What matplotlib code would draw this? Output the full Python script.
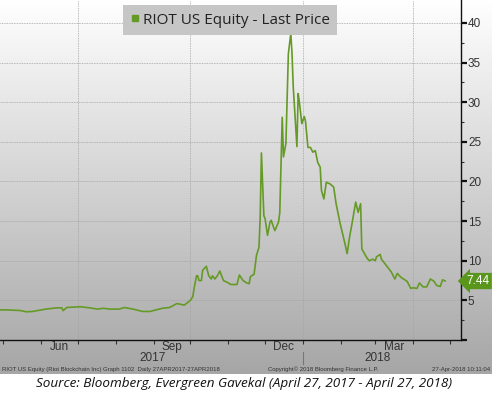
import matplotlib
matplotlib.use("Agg")
import matplotlib.pyplot as plt
import matplotlib.dates as mdates
from matplotlib.lines import Line2D
import numpy as np
import pandas as pd

# RIOT US Equity, last price
dates = [
    "2017-04-27", "2017-05-04", "2017-05-15", "2017-05-20", "2017-05-25",
    "2017-06-05", "2017-06-14", "2017-06-18", "2017-06-19", "2017-06-22",
    "2017-07-03", "2017-07-11", "2017-07-17", "2017-07-22", "2017-07-27",
    "2017-08-04", "2017-08-08", "2017-08-15", "2017-08-23", "2017-08-29",
    "2017-09-03", "2017-09-08", "2017-09-14", "2017-09-20", "2017-09-26",
    "2017-10-01", "2017-10-03", "2017-10-04", "2017-10-06", "2017-10-07",
    "2017-10-08", "2017-10-10", "2017-10-11", "2017-10-14", "2017-10-16",
    "2017-10-18", "2017-10-19", "2017-10-21", "2017-10-23", "2017-10-25",
    "2017-10-28", "2017-11-01", "2017-11-03", "2017-11-06", "2017-11-08",
    "2017-11-10", "2017-11-13", "2017-11-16", "2017-11-18", "2017-11-19",
    "2017-11-22", "2017-11-24", "2017-11-26", "2017-11-27", "2017-11-28",
    "2017-11-30", "2017-12-01", "2017-12-03", "2017-12-05", "2017-12-06",
    "2017-12-08", "2017-12-09", "2017-12-12", "2017-12-13", "2017-12-15",
    "2017-12-16", "2017-12-18", "2017-12-20", "2017-12-22", "2017-12-23",
    "2017-12-24", "2017-12-27", "2017-12-28", "2017-12-29", "2017-12-31",
    "2018-01-02", "2018-01-03", "2018-01-05", "2018-01-07", "2018-01-09",
    "2018-01-11", "2018-01-13", "2018-01-15", "2018-01-16", "2018-01-18",
    "2018-01-20", "2018-01-23", "2018-01-26", "2018-01-28", "2018-01-31",
    "2018-02-02", "2018-02-04", "2018-02-06", "2018-02-08", "2018-02-10",
    "2018-02-13", "2018-02-15", "2018-02-17", "2018-02-18", "2018-02-22",
    "2018-02-24", "2018-02-27", "2018-03-01", "2018-03-02", "2018-03-05",
    "2018-03-06", "2018-03-10", "2018-03-14", "2018-03-17", "2018-03-19",
    "2018-03-22", "2018-03-27", "2018-03-30", "2018-04-01", "2018-04-04",
    "2018-04-06", "2018-04-09", "2018-04-12", "2018-04-15", "2018-04-18",
    "2018-04-20", "2018-04-23", "2018-04-25", "2018-04-27",
]
prices = [
    3.80, 3.80, 3.72, 3.56, 3.60,
    3.90, 4.06, 4.05, 3.70, 4.10,
    4.20, 4.05, 3.90, 4.00, 3.90,
    3.90, 4.10, 3.90, 3.60, 3.60,
    3.80, 4.00, 4.10, 4.60, 4.40,
    5.00, 5.50, 6.50, 8.10, 8.10,
    7.50, 7.50, 8.80, 9.30, 8.10,
    7.70, 8.10, 7.70, 8.10, 8.70,
    7.50, 7.20, 7.00, 7.00, 7.00,
    8.20, 7.50, 7.20, 7.10, 8.00,
    8.30, 10.70, 11.70, 15.50, 23.60,
    15.70, 15.30, 13.20, 14.90, 15.10,
    14.20, 13.80, 14.90, 16.10, 28.10,
    23.10, 24.80, 36.10, 38.70, 36.10,
    31.90, 24.40, 31.10, 30.00, 27.30,
    28.20, 27.60, 24.30, 24.30, 23.70,
    23.90, 22.40, 21.80, 18.90, 17.80,
    19.90, 19.70, 19.30, 17.20, 14.90,
    13.60, 12.30, 10.90, 13.00, 14.70,
    17.40, 16.10, 17.20, 11.50, 10.40,
    10.00, 10.20, 10.00, 10.50, 10.80,
    10.20, 9.40, 8.60, 7.70, 8.40,
    7.90, 7.40, 6.50, 6.60, 6.50,
    7.20, 6.70, 6.70, 7.70, 7.40,
    6.90, 6.75, 7.60, 7.44,
]
y_ticks = [5, 10, 15, 20, 25, 30, 35, 40]
month_labels = [("2017-06-16", "Jun"), ("2017-09-16", "Sep"),
                ("2017-12-16", "Dec"), ("2018-03-16", "Mar")]
year_labels = [("2017-08-31", "2017"), ("2018-03-03", "2018")]
quarter_lines = ["2017-07-01", "2017-10-01", "2018-01-01", "2018-04-01"]
last_price = 7.44

GREEN = "#659a26"
W, H = 492, 398

fig = plt.figure(figsize=(W / 100, H / 100), dpi=100)

# Bloomberg-style grey gradient behind the chart
bg = fig.add_axes([0, 1 - 374 / H, 1, 374 / H])
grad = np.linspace(0, 1, 256).reshape(-1, 1)
bg.imshow(grad, aspect="auto", cmap=matplotlib.colors.LinearSegmentedColormap.from_list(
    "bb", ["#ffffff", "#a6a6a6"]), extent=[0, 1, 0, 1], origin="upper")
bg.set_axis_off()

ax = fig.add_axes([0, 1 - 340 / H, 461 / W, 340 / H])
ax.patch.set_alpha(0)

x = pd.to_datetime(dates)
ax.plot(x, prices, color=GREEN, lw=1.2, zorder=3)

ax.set_xlim(pd.Timestamp("2017-04-28 12:00"), pd.Timestamp("2018-05-10"))
ax.set_ylim(0, 42.9)

for s in ["left", "top"]:
    ax.spines[s].set_visible(False)
for s in ["right", "bottom"]:
    ax.spines[s].set_color("#111111")
    ax.spines[s].set_linewidth(1.0)

# y axis on the right
ax.yaxis.tick_right()
ax.set_yticks([0] + y_ticks)
ax.set_yticklabels([""] + [str(v) for v in y_ticks])
ax.set_yticks(np.arange(2.5, 42, 5), minor=True)
ax.tick_params(axis="y", which="major", direction="out", length=4, width=1.6,
               colors="#111111", labelsize=8.5, pad=1, labelcolor="#333333")
ax.tick_params(axis="y", which="minor", direction="out", length=2, width=0.8,
               colors="#333333")
for t in ax.get_yticklabels():
    t.set_family("Liberation Sans")

# x axis: monthly ticks, labels drawn at mid-month
ax.xaxis.set_major_locator(mdates.MonthLocator())
ax.xaxis.set_major_formatter(plt.NullFormatter())
ax.tick_params(axis="x", direction="out", length=3, width=0.8, colors="#333333")

xt = ax.get_xaxis_transform()
for d, lab in month_labels:
    ax.text(pd.Timestamp(d), -0.022, lab, transform=xt, ha="center", va="center",
            fontsize=8.5, color="#333333", family="Liberation Sans")
for d, lab in year_labels:
    ax.text(pd.Timestamp(d), -0.052, lab, transform=xt, ha="center", va="center",
            fontsize=8.5, color="#333333", family="Liberation Sans")
ax.add_line(Line2D([pd.Timestamp("2018-01-01")] * 2, [-0.035, -0.07], transform=xt,
                   color="#777777", lw=0.8, clip_on=False))

# grid
for v in y_ticks:
    ax.axhline(v, color="#a4a4a4", lw=0.6, ls=(0, (1, 1)), zorder=1)
for d in quarter_lines:
    ax.axvline(pd.Timestamp(d), color="#a4a4a4", lw=0.6, ls=(0, (1, 1)), zorder=1)

# legend box
handle = Line2D([], [], color=GREEN, marker="s", ls="none", markersize=5)
leg = ax.legend([handle], ["RIOT US Equity - Last Price"], loc="upper center",
                bbox_to_anchor=(0.499, 1.008), frameon=True, fancybox=False,
                handlelength=0.6, handletextpad=0.2, borderpad=0.5,
                prop={"family": "Open Sans", "size": 11})
leg.get_frame().set_facecolor("#c6c6c6")
leg.get_frame().set_edgecolor("none")
leg.get_frame().set_alpha(1)
for t in leg.get_texts():
    t.set_color("#222222")

# last price tag
ax.text(1.012, last_price, f"{last_price:.2f}", transform=ax.get_yaxis_transform(),
        ha="left", va="center", fontsize=8.5, color="white", family="Liberation Sans",
        bbox=dict(boxstyle="larrow,pad=0.18", fc="#5a961c", ec="none"), clip_on=False)

# footer
fy = 1 - 369 / H
fig.text(0.004, fy, "RIOT US Equity (Riot Blockchain Inc) Graph 1102  Daily 27APR2017-27APR2018",
         fontsize=4.3, color="#333333", va="center", family="Liberation Sans")
fig.text(0.545, fy, "Copyright\u00a9 2018 Bloomberg Finance L.P.",
         fontsize=4.3, color="#333333", va="center", family="Liberation Sans")
fig.text(0.997, fy, "27-Apr-2018 10:11:04", fontsize=4.3, color="#333333",
         va="center", ha="right", family="Liberation Sans")

fig.text(0.497, 1 - 383 / H,
         "Source: Bloomberg, Evergreen Gavekal (April 27, 2017 - April 27, 2018)",
         fontsize=9.7, style="italic", ha="center", va="center", color="#111111",
         family="Open Sans")

fig.savefig("out.png", dpi=100)
